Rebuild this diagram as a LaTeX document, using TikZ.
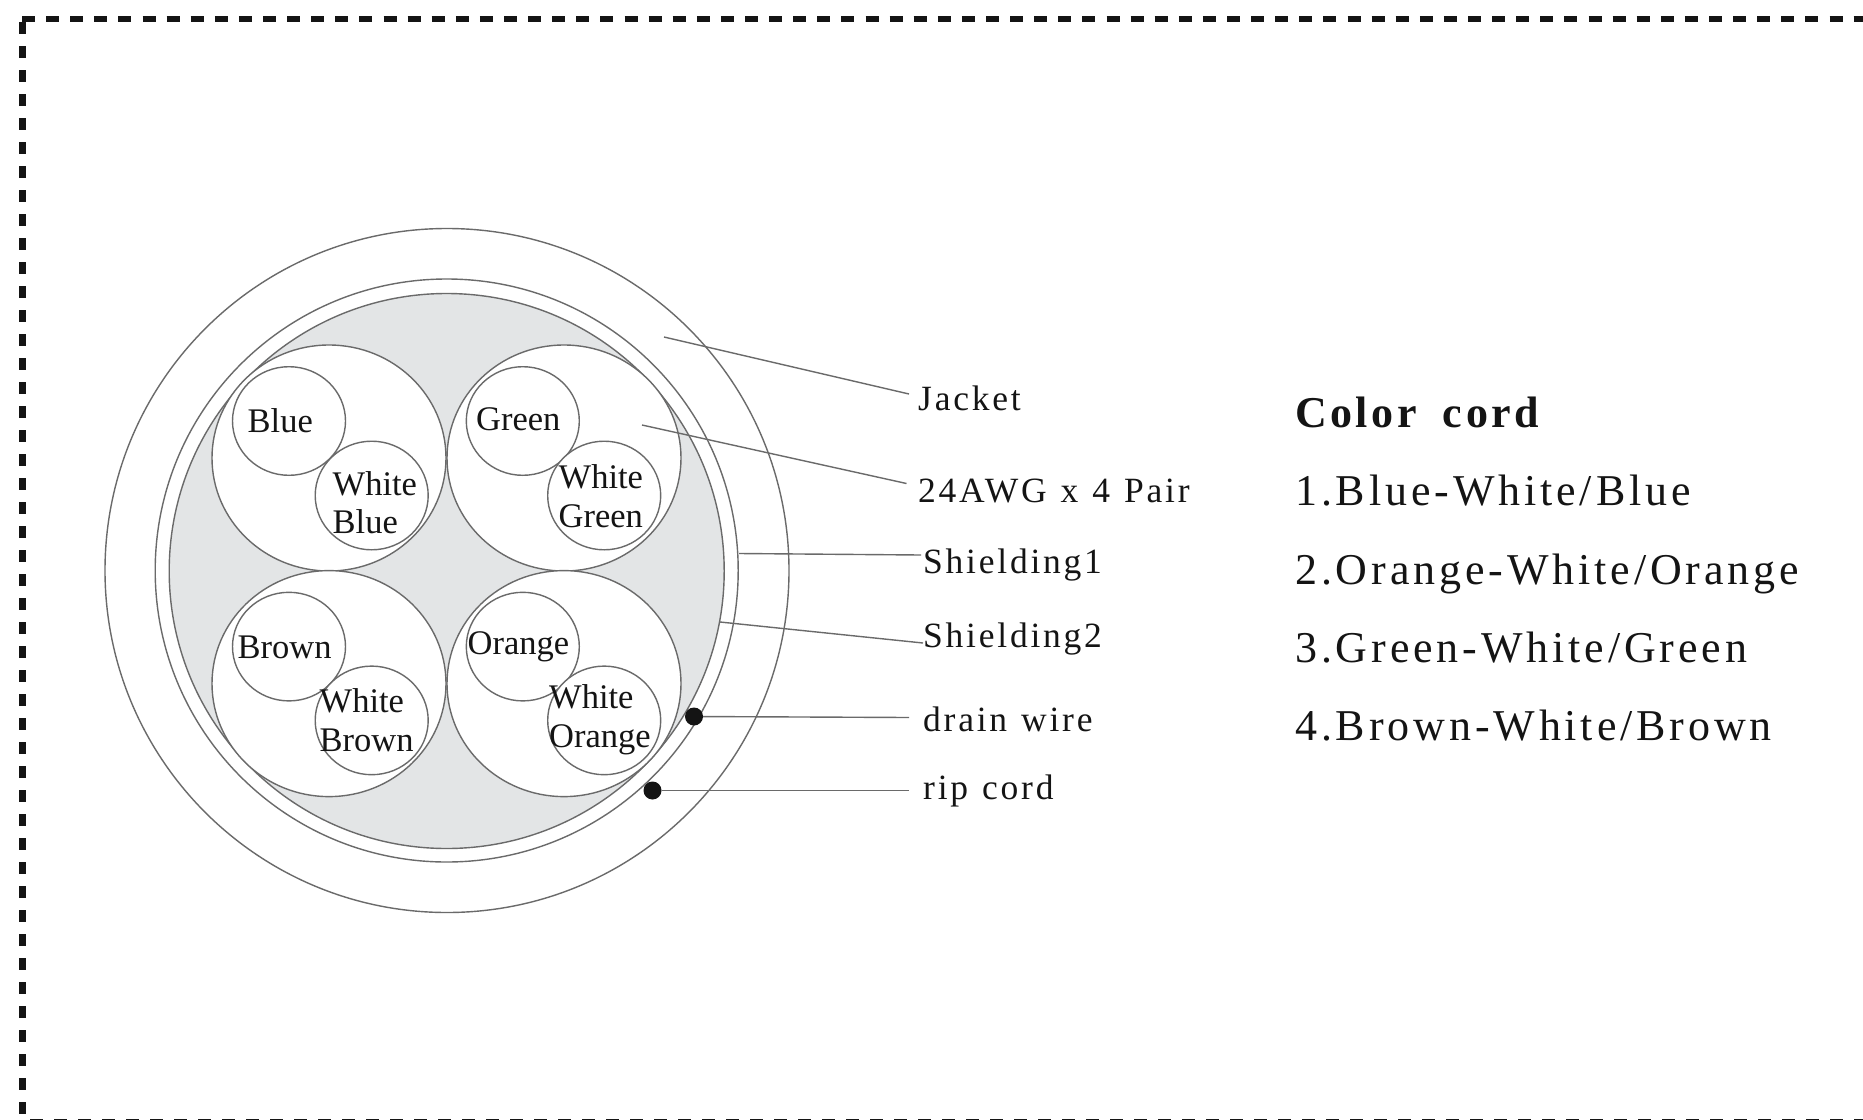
\documentclass[tikz,border=0pt]{standalone}
\usepackage{fontspec}
\setmainfont{Liberation Serif}
\newfontfamily\labfont[LetterSpace=7.8,WordSpace=1.2]{Liberation Serif}
\newfontfamily\listfont[LetterSpace=8.8,WordSpace=1.2]{Liberation Serif}
\newfontfamily\titlefont[LetterSpace=8,WordSpace=1.8]{Liberation Serif}
\usetikzlibrary{shapes.geometric}
\definecolor{ink}{HTML}{141414}
\definecolor{wire}{HTML}{6A6A6A}
\definecolor{fillgray}{HTML}{E3E5E6}
\tikzset{
  ring/.style n args={2}{ellipse,draw=wire,line width=1.4pt,inner sep=0pt,minimum width=#1pt,minimum height=#2pt},
  pairbig/.style={ring={234}{226},fill=white},
  core/.style={ring={113}{108.6},fill=white},
  coretext/.style={font=\fontsize{34.5}{38.6}\selectfont,text=ink,inner sep=0pt,anchor=base west},
  coretwo/.style={coretext,align=left},
  label/.style={font=\labfont\fontsize{35.5}{40}\selectfont,text=ink,inner sep=0pt,anchor=base west},
  listitem/.style={font=\listfont\fontsize{44}{50}\selectfont,text=ink,inner sep=0pt,anchor=base west},
  leader/.style={draw=wire,line width=1.4pt},
  dotnode/.style={circle,fill=ink,inner sep=0pt,minimum size=18pt},
  border/.style={draw=ink,line width=6.5pt}
}
\begin{document}
\begin{tikzpicture}[x=1pt,y=-1pt]
\clip (0,0) rectangle (1863,1119);
\fill[white] (0,0) rectangle (1863,1119);
% dashed frame
\draw[border,dash pattern=on 13pt off 11.1pt] (22,19) -- (1890,19);
\draw[border,dash pattern=on 12pt off 12pt] (22.7,22) -- (22.7,1125);
\draw[border,dash pattern=on 13pt off 11pt] (30,1122) -- (1890,1122);
% cable
\node[ring={684}{684}] (jacketring) at (447,570.5) {};
\node[ring={583}{583}] (shieldone) at (446.7,570.5) {};
\node[ring={555}{555},fill=fillgray] (shieldtwo) at (446.7,571) {};
\node[pairbig] (pairA) at (329,458) {};
\node[pairbig] (pairB) at (564,458) {};
\node[pairbig] (pairC) at (329,683.6) {};
\node[pairbig] (pairD) at (564,683.6) {};
\node[core] (blue) at (289,421) {};
\node[core] (wblue) at (371.7,495.5) {};
\node[core] (green) at (522.8,421) {};
\node[core] (wgreen) at (604.2,495.5) {};
\node[core] (brown) at (289,646.6) {};
\node[core] (wbrown) at (371.7,720.4) {};
\node[core] (orange) at (522.8,646.6) {};
\node[core] (worange) at (604.2,720.4) {};
\node[coretext] (tblue) at (247.5,432) {Blue};
\node[coretwo] (twblue) at (332.5,533.7) {White\\Blue};
\node[coretext] (tgreen) at (476,430) {Green};
\node[coretwo] (twgreen) at (558.5,527) {White\\Green};
\node[coretext] (tbrown) at (237.5,658) {Brown};
\node[coretwo] (twbrown) at (319.5,751.5) {White\\Brown};
\node[coretext] (torange) at (467.5,654) {Orange};
\node[coretwo] (tworange) at (549,747.5) {White\\Orange};
% dots
\node[dotnode] (drain) at (694,716.5) {};
\node[dotnode] (rip) at (652.5,790.5) {};
% labels
\node[label] (ljacket) at (918,410) {Jacket};
\node[label] (lawg) at (918,502) {24AWG x 4 Pair};
\node[label] (lsone) at (923,573) {Shielding1};
\node[label] (lstwo) at (923,647) {Shielding2};
\node[label] (ldrain) at (923,731) {drain wire};
\node[label] (lrip) at (923,799) {rip cord};
% leaders
\coordinate (ajacket) at (664,337);
\coordinate (aawg) at (642,425);
\coordinate (asone) at (739,553.5);
\coordinate (astwo) at (720,622);
\coordinate (ejacket) at (909,394);
\coordinate (eawg) at (906.5,483.5);
\coordinate (esone) at (921,555);
\coordinate (estwo) at (923,643);
\coordinate (edrain) at (909,717.5);
\coordinate (erip) at (909,790.5);
\draw[leader] (ajacket) -- (ejacket);
\draw[leader] (aawg) -- (eawg);
\draw[leader] (asone) -- (esone);
\draw[leader] (astwo) -- (estwo);
\draw[leader] (drain) -- (edrain);
\draw[leader] (rip) -- (erip);
% colour list
\node[listitem,font=\titlefont\bfseries\fontsize{44}{50}\selectfont] (ltitle) at (1295,427) {Color cord};
\node[listitem] (lone) at (1295,505.5) {1.Blue-White/Blue};
\node[listitem] (ltwo) at (1295,584) {2.Orange-White/Orange};
\node[listitem] (lthree) at (1295,662) {3.Green-White/Green};
\node[listitem] (lfour) at (1295,740.5) {4.Brown-White/Brown};
\end{tikzpicture}
\end{document}
